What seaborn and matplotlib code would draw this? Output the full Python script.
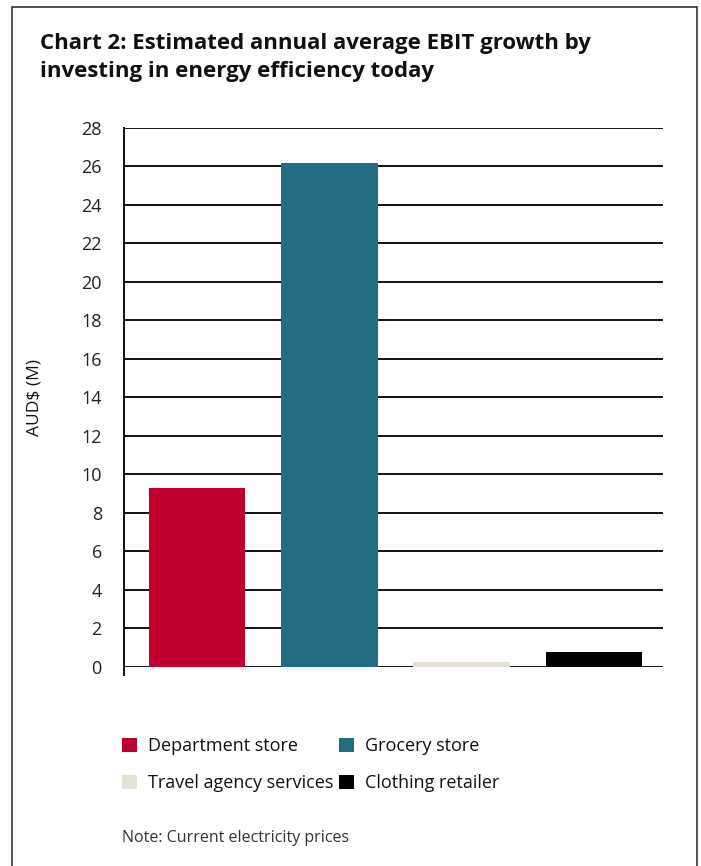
import matplotlib
matplotlib.use("Agg")
import matplotlib.pyplot as plt
from matplotlib.patches import Patch, Rectangle
import seaborn as sns
import pandas as pd

categories = ["Department store", "Grocery store", "Travel agency services", "Clothing retailer"]
values = [9.3, 26.2, 0.22, 0.75]
colors = ["#C0002D", "#246C82", "#E5E2D5", "#000000"]
y_ticks = list(range(0, 29, 2))

sns.set_theme(style="white")
plt.rcParams["font.family"] = ["Open Sans", "DejaVu Sans"]

df = pd.DataFrame({"category": categories, "value": values})

fig = plt.figure(figsize=(7.01, 8.66), dpi=100)
ax = fig.add_axes([124 / 701, 1 - 666.7 / 866, (663 - 124) / 701, (666.7 - 128) / 866])

sns.barplot(data=df, x="category", y="value", hue="category", palette=colors,
            order=categories, hue_order=categories, width=0.73, saturation=1,
            legend=False, ax=ax, zorder=3, linewidth=0)

ax.set_ylim(0, 28)
ax.set_xlim(-0.55, 3.52)
ax.set_yticks(y_ticks)
ax.set_yticklabels([str(t) for t in y_ticks], fontsize=13, color="#222222")
ax.set_xticks([])
ax.set_xlabel("")
ax.set_ylabel("AUD$ (M)", fontsize=12.5, color="#111111", labelpad=28)
ax.tick_params(axis="y", length=0, pad=16)

for t in y_ticks:
    ax.axhline(t, color="#111111", lw=1.4, zorder=1)
for side in ["top", "right", "bottom"]:
    ax.spines[side].set_visible(False)
ax.spines["left"].set_color("#111111")
ax.spines["left"].set_linewidth(1.4)
ax.spines["left"].set_bounds(-0.45, 28)
ax.set_ylim(0, 28)

# outer frame around the whole chart
fig.patches.append(Rectangle((12 / 701, -0.02), (697 - 12) / 701, 1.02 - 7 / 866,
                             transform=fig.transFigure, fill=False,
                             edgecolor="#333333", lw=1.2))

fig.text(40 / 701, 1 - 33 / 866,
         "Chart 2: Estimated annual average EBIT growth by\ninvesting in energy efficiency today",
         fontsize=16, fontweight="bold", color="#111111", va="top", ha="left",
         linespacing=1.42)

# legend laid out row by row: two entries per row
leg_order = [0, 2, 1, 3]
handles = [Patch(facecolor=colors[i], edgecolor="none") for i in leg_order]
labels = [categories[i] for i in leg_order]
leg = fig.legend(handles, labels, loc="upper left",
                 bbox_to_anchor=(106 / 701, 1 - 721 / 866), ncol=2,
                 frameon=False, fontsize=13, handlelength=0.8, handleheight=0.8,
                 handletextpad=0.6, columnspacing=0.35, labelspacing=1.05)
for txt in leg.get_texts():
    txt.set_color("#111111")

fig.text(122 / 701, 1 - 838 / 866, "Note: Current electricity prices",
         fontsize=11.5, color="#333333", va="center", ha="left")

fig.savefig("out.png", dpi=100)
